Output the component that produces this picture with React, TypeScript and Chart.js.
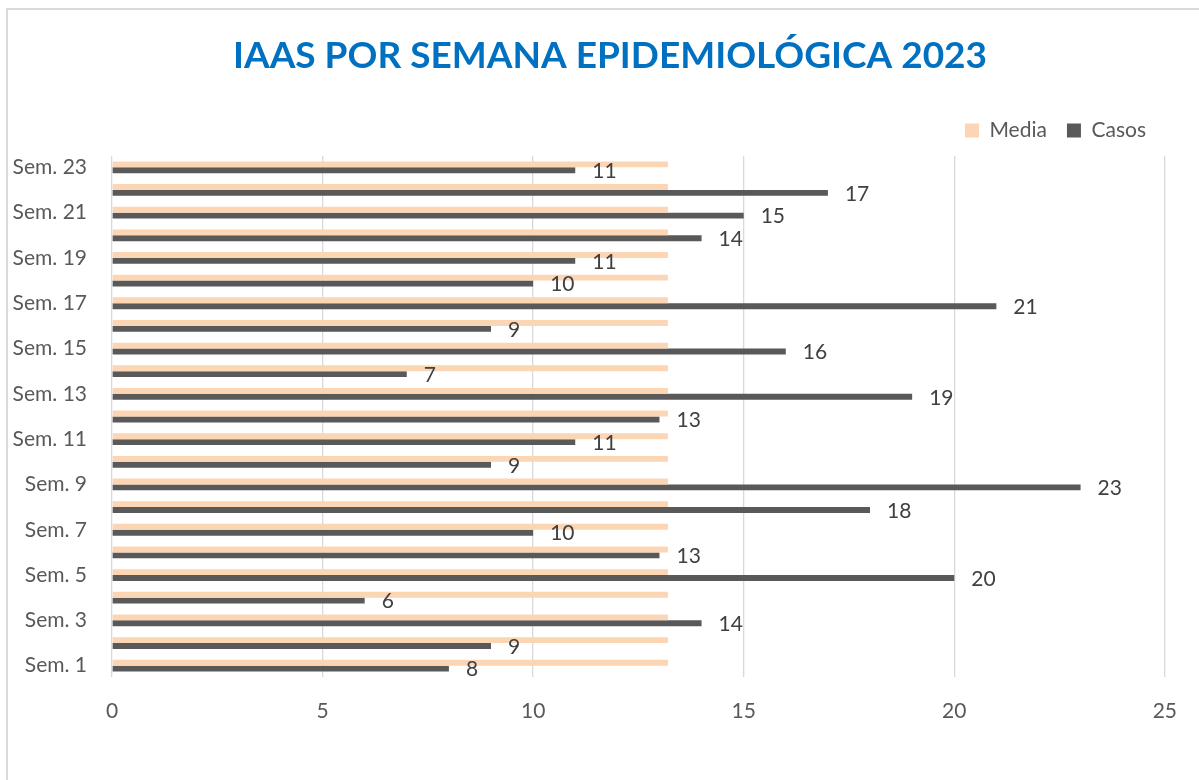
import React, { useEffect, useRef } from "react";
import { Chart, registerables } from "chart.js";

Chart.register(...registerables);

const weeks = [
  "Sem. 1", "Sem. 2", "Sem. 3", "Sem. 4", "Sem. 5", "Sem. 6", "Sem. 7", "Sem. 8",
  "Sem. 9", "Sem. 10", "Sem. 11", "Sem. 12", "Sem. 13", "Sem. 14", "Sem. 15", "Sem. 16",
  "Sem. 17", "Sem. 18", "Sem. 19", "Sem. 20", "Sem. 21", "Sem. 22", "Sem. 23",
];
const casos = [8, 9, 14, 6, 20, 13, 10, 18, 23, 9, 11, 13, 19, 7, 16, 9, 21, 10, 11, 14, 15, 17, 11];
const mediaValue = 13.2;
const media = weeks.map(() => mediaValue);
const xTicks = [0, 5, 10, 15, 20, 25];

const FONT = "Lato, 'Noto Sans', sans-serif";

const dataLabels = {
  id: "dataLabels",
  afterLayout(chart: any) {
    const t = chart.titleBlock;
    if (t) {
      t.right += 54;
    }
  },
  afterDatasetsDraw(chart: any) {
    const ctx = chart.ctx;
    const meta = chart.getDatasetMeta(1);
    ctx.save();
    ctx.font = `21px ${FONT}`;
    ctx.fillStyle = "#404040";
    ctx.textAlign = "left";
    ctx.textBaseline = "middle";
    meta.data.forEach((bar: any, i: number) => {
      ctx.fillText(String(casos[i]), bar.x + 17, bar.y + 1);
    });
    ctx.restore();
  },
};

export default function App() {
  const ref = useRef<HTMLCanvasElement | null>(null);
  useEffect(() => {
    if (!ref.current) return;
    const chart = new Chart(ref.current, {
      type: "bar",
      data: {
        labels: weeks,
        datasets: [
          {
            label: "Media",
            data: media,
            backgroundColor: "#FCD5B4",
            categoryPercentage: 0.52,
            barPercentage: 1,
          },
          {
            label: "Casos",
            data: casos,
            backgroundColor: "#595959",
            categoryPercentage: 0.52,
            barPercentage: 1,
          },
        ],
      },
      options: {
        indexAxis: "y",
        responsive: false,
        animation: false,
        layout: { padding: { left: 0, right: 33, top: 0, bottom: 0 } },
        scales: {
          x: {
            type: "linear",
            min: 0,
            max: 25,
            afterBuildTicks: (s: any) => {
              s.ticks = xTicks.map((v) => ({ value: v }));
            },
            grid: { color: "#D9D9D9", lineWidth: 1.3, drawTicks: false },
            border: { display: false },
            ticks: {
              color: "#595959",
              font: { family: FONT, size: 21 },
              padding: 22,
            },
            afterFit: (s: any) => {
              s.height = 103;
            },
          },
          spacer: {
            type: "linear",
            position: "top",
            display: true,
            grid: { display: false, drawTicks: false },
            border: { display: false },
            ticks: { display: false },
            afterFit: (s: any) => {
              s.height = 5;
            },
          },
          y: {
            type: "category",
            reverse: true,
            grid: { display: false, drawTicks: false },
            border: { display: false },
            ticks: {
              autoSkip: false,
              color: "#595959",
              font: { family: FONT, size: 21 },
              padding: 25,
              callback: (_v: any, i: number) => (i % 2 === 0 ? weeks[i] : ""),
            },
            afterFit: (s: any) => {
              s.width = 112;
            },
          },
        },
        plugins: {
          title: {
            display: true,
            text: "IAAS POR SEMANA EPIDEMIOLÓGICA 2023",
            color: "#0070C0",
            font: { family: FONT, size: 37, weight: "bold" },
            padding: { top: 34, bottom: 21.6 },
          },
          legend: {
            display: true,
            position: "top",
            align: "end",
            labels: {
              boxWidth: 14,
              boxHeight: 14,
              padding: 20,
              color: "#595959",
              font: { family: FONT, size: 21 },
            },
          },
          tooltip: { enabled: false },
        },
      },
      plugins: [dataLabels],
    });
    return () => chart.destroy();
  }, []);

  return (
    <div style={{ position: "absolute", left: 0, top: 0, width: 1199, height: 780, overflow: "hidden", background: "#fff" }}>
      <div
        style={{
          position: "absolute",
          left: 6,
          top: 8,
          width: 1400,
          height: 1000,
          border: "2px solid #D9D9D9",
          boxSizing: "border-box",
        }}
      />
      <canvas ref={ref} width={1199} height={780} style={{ position: "absolute", left: 0, top: 0 }} />
    </div>
  );
}
